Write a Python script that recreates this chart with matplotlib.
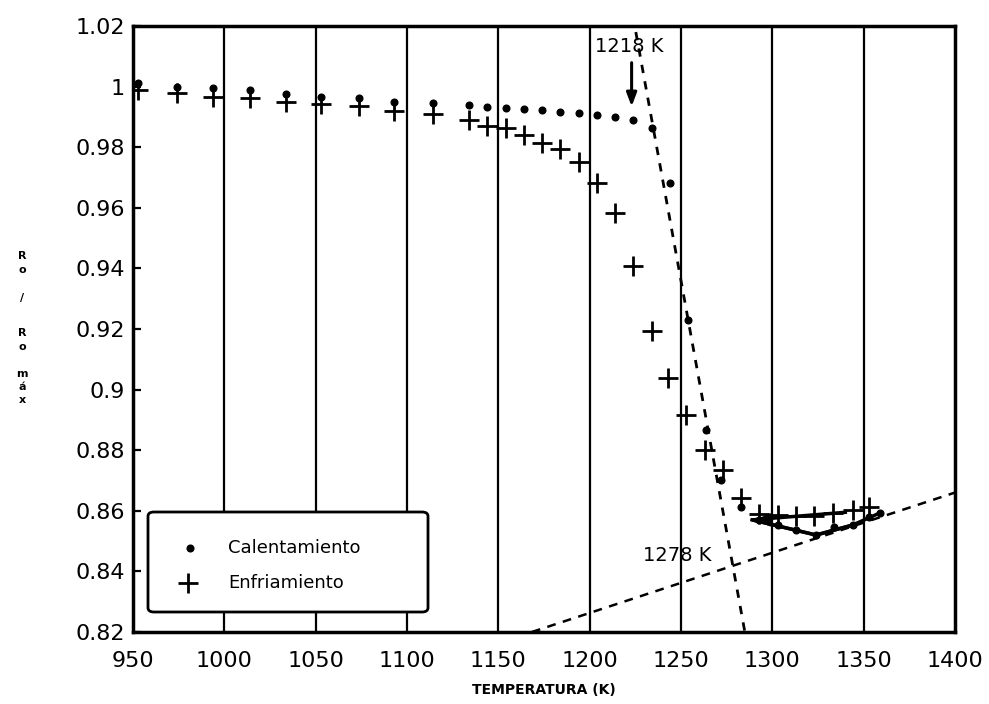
import matplotlib
matplotlib.use("Agg")
import matplotlib.pyplot as plt
from matplotlib.patches import FancyBboxPatch

# datos (temperatura en K, Ro/Ro max)
t_cal = [953, 974, 994, 1014, 1034, 1053, 1074, 1093, 1114, 1134,
         1144, 1154, 1164, 1174, 1184, 1194, 1204, 1214, 1224, 1234,
         1244, 1254, 1264, 1272, 1283,
         1293, 1303, 1313, 1324, 1334, 1344, 1353, 1359]
r_cal = [1.0012, 0.9999, 0.9995, 0.9989, 0.9976, 0.9966, 0.9962, 0.9949, 0.9946, 0.9939,
         0.9933, 0.9929, 0.9926, 0.9923, 0.9916, 0.9913, 0.9906, 0.9900, 0.9890, 0.9863,
         0.9682, 0.9230, 0.8867, 0.8702, 0.8613,
         0.8570, 0.8553, 0.8537, 0.8520, 0.8545, 0.8553, 0.8580, 0.8593]

t_enf = [953, 974, 994, 1014, 1034, 1053, 1074, 1093, 1114, 1134,
         1144, 1154, 1164, 1174, 1184, 1194, 1204, 1214, 1224, 1234,
         1243, 1253, 1263, 1273, 1283,
         1293, 1303, 1313, 1323, 1333, 1344, 1353]
r_enf = [0.9989, 0.9979, 0.9966, 0.9962, 0.9949, 0.9943, 0.9936, 0.9919, 0.9910, 0.9890,
         0.9870, 0.9863, 0.9840, 0.9814, 0.9794, 0.9751, 0.9682, 0.9583, 0.9408, 0.9193,
         0.9038, 0.8916, 0.8801, 0.8735, 0.8642,
         0.8590, 0.8586, 0.8583, 0.8583, 0.8593, 0.8603, 0.8613]

# trazo a mano del final del ciclo
t_flecha = [1359, 1344, 1324, 1289, 1340]
r_flecha = [0.8593, 0.8553, 0.8520, 0.8570, 0.8595]

# rectas de ajuste (dos puntos cada una)
t_recta1 = [1225.3, 1285.0]
r_recta1 = [1.0180, 0.8200]
t_recta2 = [1168.4, 1400.0]
r_recta2 = [0.8200, 0.8660]

t_ticks = [950, 1000, 1050, 1100, 1150, 1200, 1250, 1300, 1350, 1400]
r_ticks = [0.82, 0.84, 0.86, 0.88, 0.90, 0.92, 0.94, 0.96, 0.98, 1.00, 1.02]
r_labels = ['0.82', '0.84', '0.86', '0.88', '0.9', '0.92', '0.94', '0.96', '0.98', '1', '1.02']

plt.rcParams['font.family'] = ['DejaVu Sans']

fig = plt.figure(figsize=(9.89, 7.04), dpi=100)
ax = fig.add_axes([0.1345, 0.1023, 0.831, 0.8608])

# lineas verticales de la rejilla
for t in t_ticks[1:-1]:
    ax.axvline(t, color='black', lw=1.6, zorder=1)

ax.plot(t_recta1, r_recta1, ls=(0, (3, 3)), color='black', lw=2.0, zorder=2)
ax.plot(t_recta2, r_recta2, ls=(0, (3.5, 3)), color='black', lw=1.8, zorder=2)

ax.plot(t_cal, r_cal, ls='none', marker='o', ms=4.8, color='black', zorder=3)
ax.plot(t_enf, r_enf, ls='none', marker='+', ms=15, mew=2.0, color='black', zorder=3)

ax.plot(t_flecha[1:], r_flecha[1:], color='black', lw=2.5, zorder=3)
ax.plot(t_flecha[:4], r_flecha[:4], color='black', lw=2.5, zorder=3)
ax.annotate('', xy=(t_flecha[3], r_flecha[3]), xytext=(t_flecha[3] + 8, r_flecha[3]),
            arrowprops=dict(arrowstyle='-|>,head_length=0.8,head_width=0.35',
                            color='black', lw=2.5))

# anotaciones de temperatura
ax.text(1203, 1.0131, '1218 K', fontsize=14, va='center', ha='left', zorder=4)
ax.annotate('', xy=(1223, 0.9925), xytext=(1223, 1.0088),
            arrowprops=dict(arrowstyle='-|>,head_length=0.8,head_width=0.3',
                            color='black', lw=2.2))
ax.text(1229, 0.8454, '1278 K', fontsize=14, va='center', ha='left', zorder=4)

ax.set_xlim(950, 1400)
ax.set_ylim(0.82, 1.02)
ax.set_xticks(t_ticks)
ax.set_xticklabels([str(t) for t in t_ticks])
ax.set_yticks(r_ticks)
ax.set_yticklabels(r_labels)
ax.tick_params(axis='x', length=0, labelsize=16, pad=14)
ax.tick_params(axis='y', direction='in', length=6, width=1.6, labelsize=16, pad=6)
for s in ax.spines.values():
    s.set_linewidth(2.5)

ax.set_xlabel('TEMPERATURA (K)', fontsize=10, fontweight='bold', labelpad=8)

# etiqueta del eje y, letra a letra
for ch, ypx in [('R', 256), ('o', 270), ('/', 298), ('R', 333), ('o', 347),
                ('m', 374), ('á', 387), ('x', 400)]:
    fig.text(22 / 989, 1 - ypx / 704, ch, fontsize=8, fontweight='bold',
             ha='center', va='center')

# leyenda dibujada a mano
caja = FancyBboxPatch((148 / 989, 1 - 612 / 704), 280 / 989, 100 / 704,
                      boxstyle='round,pad=0,rounding_size=0.006',
                      transform=fig.transFigure, fill=True, facecolor='white',
                      edgecolor='black', lw=2.0, zorder=5)
fig.patches.append(caja)
fig.lines.append(plt.Line2D([190 / 989], [1 - 548 / 704], marker='o', ms=4.8,
                            color='black', transform=fig.transFigure, zorder=6))
fig.lines.append(plt.Line2D([188 / 989], [1 - 583 / 704], marker='+', ms=15, mew=2.0,
                            color='black', transform=fig.transFigure, zorder=6))
fig.text(228 / 989, 1 - 548 / 704, 'Calentamiento', fontsize=13, va='center', zorder=6)
fig.text(228 / 989, 1 - 583 / 704, 'Enfriamiento', fontsize=13, va='center', zorder=6)

fig.savefig('out.png', dpi=100)
